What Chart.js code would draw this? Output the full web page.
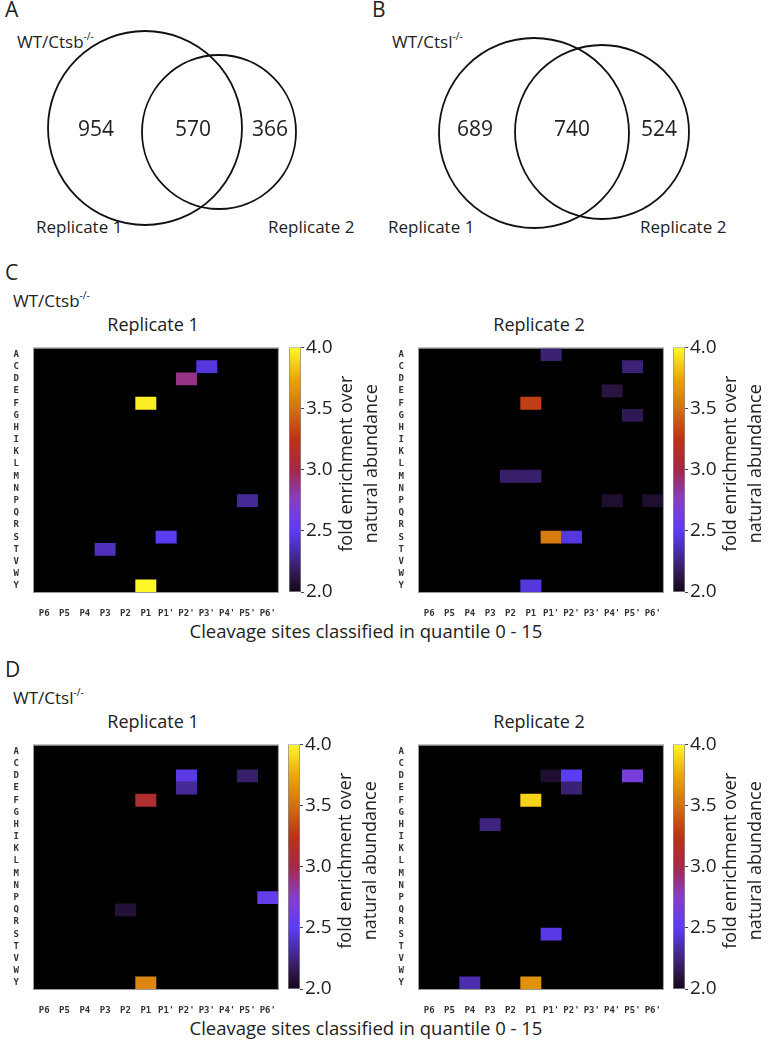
<!DOCTYPE html>
<html>
<head>
<meta charset="utf-8">
<script src="https://cdn.jsdelivr.net/npm/chart.js@4.4.0/dist/chart.umd.min.js"></script>
<style>
    body { margin: 0; width: 770px; height: 1042px; position: relative; overflow: hidden; background: #fff; font-family: 'Open Sans', sans-serif; color: #222; }
    canvas { position: absolute; }
    .t { position: absolute; white-space: nowrap; line-height: 1; }
    .t sup { font-size: 60%; position: relative; top: -0.1em; }
    .letter { font-size: 21px; }
    .strain { font-size: 17px; }
    .rep { font-size: 17px; }
    .title { font-size: 18px; width: 200px; text-align: center; }
    .caption { font-size: 18.5px; width: 500px; text-align: center; }
</style>
</head>
<body>
<!-- panel A / B : venn -->
<div class="t letter" style="left:5px; top:-1px;">A</div>
<div class="t letter" style="left:372px; top:-1px;">B</div>
<div class="t strain" style="left:17px; top:32px;">WT/Ctsb<sup>-/-</sup></div>
<div class="t strain" style="left:392px; top:32px;">WT/Ctsl<sup>-/-</sup></div>
<div class="t rep" style="left:36px; top:218px;">Replicate 1</div>
<div class="t rep" style="left:268px; top:218px;">Replicate 2</div>
<div class="t rep" style="left:388px; top:218px;">Replicate 1</div>
<div class="t rep" style="left:640px; top:218px;">Replicate 2</div>
<canvas id="vennA" width="385" height="245" style="left:0; top:0;"></canvas>
<canvas id="vennB" width="385" height="245" style="left:385px; top:0;"></canvas>

<!-- panel C -->
<div class="t letter" style="left:5px; top:262px;">C</div>
<div class="t strain" style="left:13px; top:291px;">WT/Ctsb<sup>-/-</sup></div>
<div class="t title" style="left:53px; top:315px;">Replicate 1</div>
<div class="t title" style="left:439px; top:315px;">Replicate 2</div>
<canvas id="hmC1" width="284" height="280" style="left:0; top:336px;"></canvas>
<canvas id="hmC2" width="284" height="280" style="left:385px; top:336px;"></canvas>
<canvas id="cbC1" width="100" height="282" style="left:289px; top:334px;"></canvas>
<canvas id="cbC2" width="97" height="282" style="left:673px; top:334px;"></canvas>
<div class="t caption" style="left:116px; top:622px;">Cleavage sites classified in quantile 0 - 15</div>

<!-- panel D -->
<div class="t letter" style="left:5px; top:659px;">D</div>
<div class="t strain" style="left:13px; top:688px;">WT/Ctsl<sup>-/-</sup></div>
<div class="t title" style="left:53px; top:712px;">Replicate 1</div>
<div class="t title" style="left:439px; top:712px;">Replicate 2</div>
<canvas id="hmD1" width="284" height="280" style="left:0; top:733px;"></canvas>
<canvas id="hmD2" width="284" height="280" style="left:385px; top:733px;"></canvas>
<canvas id="cbD1" width="100" height="282" style="left:288px; top:731px;"></canvas>
<canvas id="cbD2" width="97" height="282" style="left:673px; top:731px;"></canvas>
<div class="t caption" style="left:116px; top:1019px;">Cleavage sites classified in quantile 0 - 15</div>

<script>
// venn counts: only replicate 1, shared, only replicate 2
const vennCtsb = [954, 570, 366];
const vennCtsl = [689, 740, 524];

const residues = ['A', 'C', 'D', 'E', 'F', 'G', 'H', 'I', 'K', 'L', 'M', 'N', 'P', 'Q', 'R', 'S', 'T', 'V', 'W', 'Y'];
const sites = ['P6', 'P5', 'P4', 'P3', 'P2', 'P1', "P1'", "P2'", "P3'", "P4'", "P5'", "P6'"];
const barTicks = [2.0, 2.5, 3.0, 3.5, 4.0];

// [residue, site, fold enrichment]
const ctsbRep1 = [
    ['C', "P3'", 2.45], ['D', "P2'", 2.88], ['F', 'P1', 3.97], ['P', "P5'", 2.3],
    ['S', "P1'", 2.5], ['T', 'P3', 2.38], ['Y', 'P1', 4.0],
];
const ctsbRep2 = [
    ['A', "P1'", 2.22], ['C', "P5'", 2.22], ['E', "P4'", 2.1], ['F', 'P1', 3.3],
    ['G', "P5'", 2.15], ['M', 'P2', 2.2], ['M', 'P1', 2.2], ['P', "P4'", 2.06],
    ['P', "P6'", 2.06], ['S', "P1'", 3.55], ['S', "P2'", 2.45], ['Y', 'P1', 2.45],
];
const ctslRep1 = [
    ['D', "P2'", 2.47], ['E', "P2'", 2.3], ['D', "P5'", 2.2], ['F', 'P1', 3.12],
    ['P', "P6'", 2.55], ['Q', 'P2', 2.08], ['Y', 'P1', 3.6],
];
const ctslRep2 = [
    ['D', "P1'", 2.06], ['D', "P2'", 2.5], ['D', "P5'", 2.65], ['E', "P2'", 2.22],
    ['F', 'P1', 3.88], ['H', 'P3', 2.25], ['S', "P1'", 2.47], ['Y', 'P4', 2.35],
    ['Y', 'P1', 3.65],
];

// colour map of the colour bar
const palette = [
    [2.0, [18, 6, 26]],
    [2.1, [40, 20, 62]],
    [2.25, [62, 36, 128]],
    [2.5, [92, 60, 242]],
    [2.75, [135, 62, 200]],
    [3.0, [165, 40, 72]],
    [3.25, [186, 52, 20]],
    [3.5, [210, 112, 18]],
    [3.75, [234, 168, 10]],
    [4.0, [255, 248, 40]],
];

function foldColor(v) {
    for (let i = 1; i < palette.length; i++) {
        const [v0, c0] = palette[i - 1];
        const [v1, c1] = palette[i];
        if (v <= v1) {
            const f = Math.max(0, (v - v0) / (v1 - v0));
            const c = c0.map((x, k) => Math.round(x + (c1[k] - x) * f));
            return `rgb(${c[0]}, ${c[1]}, ${c[2]})`;
        }
    }
    const c = palette[palette.length - 1][1];
    return `rgb(${c[0]}, ${c[1]}, ${c[2]})`;
}

const tickFont = { family: "'DejaVu Sans Mono', monospace", size: 9, weight: 'bold' };

// black plot area + thin frame
const blackPlot = {
    id: 'blackPlot',
    beforeDatasetsDraw(chart) {
        const a = chart.chartArea;
        const ctx = chart.ctx;
        ctx.save();
        ctx.fillStyle = '#000';
        ctx.fillRect(a.left, a.top, a.right - a.left, a.bottom - a.top);
        ctx.restore();
    },
    afterDatasetsDraw(chart) {
        const a = chart.chartArea;
        const ctx = chart.ctx;
        ctx.save();
        ctx.strokeStyle = '#9a9a9a';
        ctx.lineWidth = 1;
        ctx.strokeRect(a.left - 0.5, a.top - 0.5, a.right - a.left + 1, a.bottom - a.top + 1);
        ctx.restore();
    },
};

function heatmap(id, cells) {
    new Chart(document.getElementById(id), {
        type: 'bar',
        data: {
            labels: residues,
            datasets: [{
                data: cells.map((c) => ({ y: c[0], x: [sites.indexOf(c[1]), sites.indexOf(c[1]) + 1] })),
                backgroundColor: cells.map((c) => foldColor(c[2])),
                borderWidth: 0,
                barPercentage: 1,
                categoryPercentage: 1,
            }],
        },
        options: {
            indexAxis: 'y',
            responsive: false,
            animation: false,
            events: [],
            layout: { padding: { top: 8, right: 2 } },
            plugins: { legend: { display: false }, tooltip: { enabled: false } },
            scales: {
                y: {
                    type: 'category',
                    grid: { display: false },
                    border: { display: false },
                    ticks: { font: tickFont, color: '#333', padding: 7, autoSkip: false },
                    afterFit: (s) => { s.width = 34; },
                },
                x: {
                    type: 'linear',
                    min: 0,
                    max: 12,
                    grid: { display: false },
                    border: { display: false },
                    afterBuildTicks: (s) => { s.ticks = sites.map((_, i) => ({ value: i + 0.5 })); },
                    ticks: {
                        font: tickFont, color: '#333', padding: 8, autoSkip: false, maxRotation: 0,
                        callback: (v) => sites[Math.floor(v)],
                    },
                    afterFit: (s) => { s.height = 24; },
                },
            },
        },
        plugins: [blackPlot],
    });
}

// rotated two line title next to the colour bar
const barTitle = {
    id: 'barTitle',
    afterDraw(chart) {
        const a = chart.chartArea;
        const ctx = chart.ctx;
        const cy = (a.top + a.bottom) / 2 - 6;
        ctx.save();
        ctx.fillStyle = '#222';
        ctx.font = "18px 'Open Sans', sans-serif";
        ctx.textAlign = 'center';
        ctx.textBaseline = 'middle';
        [['fold enrichment over', 46], ['natural abundance', 71]].forEach(([txt, dx]) => {
            ctx.save();
            ctx.translate(a.right + dx, cy);
            ctx.rotate(-Math.PI / 2);
            ctx.fillText(txt, 0, 0);
            ctx.restore();
        });
        ctx.restore();
    },
};

function colorBar(id) {
    const el = document.getElementById(id);
    new Chart(el, {
        type: 'bar',
        data: {
            labels: [''],
            datasets: [{
                data: [[barTicks[0], barTicks[barTicks.length - 1]]],
                backgroundColor: (c) => {
                    const chart = c.chart;
                    if (!chart.chartArea) return '#000';
                    const y = chart.scales.y;
                    const g = chart.ctx.createLinearGradient(0, y.getPixelForValue(2), 0, y.getPixelForValue(4));
                    palette.forEach(([v, rgb]) => g.addColorStop((v - 2) / 2, `rgb(${rgb[0]}, ${rgb[1]}, ${rgb[2]})`));
                    return g;
                },
                borderWidth: 1,
                borderColor: '#8a8a8a',
                borderSkipped: false,
                barPercentage: 1,
                categoryPercentage: 1,
            }],
        },
        options: {
            responsive: false,
            animation: false,
            events: [],
            layout: { padding: { top: 10, bottom: 24 } },
            plugins: { legend: { display: false }, tooltip: { enabled: false } },
            scales: {
                x: { display: false },
                y: {
                    position: 'right',
                    min: 2,
                    max: 4,
                    afterBuildTicks: (s) => { s.ticks = barTicks.map((v) => ({ value: v })); },
                    grid: { drawOnChartArea: false, tickLength: 3, color: '#444' },
                    border: { display: false },
                    ticks: {
                        font: { family: "'Open Sans', sans-serif", size: 19 },
                        color: '#222',
                        padding: 2,
                        callback: (v) => v.toFixed(1),
                    },
                    afterFit: (s) => { s.width = el.width - 12; },
                },
            },
        },
        plugins: [barTitle],
    });
}

// venn circles: centre x, centre y, radius (canvas px) and count positions
const vennLayoutA = { circles: [[145, 128, 97], [219, 132, 77]], labels: [[96, 130], [193, 130], [270, 130]] };
const vennLayoutB = { circles: [[149, 133, 95], [217, 132, 87]], labels: [[90, 130], [187, 130], [274, 130]] };

const vennCounts = {
    id: 'vennCounts',
    afterDraw(chart, args, opts) {
        const ctx = chart.ctx;
        const sx = chart.scales.x;
        const sy = chart.scales.y;
        ctx.save();
        ctx.fillStyle = '#222';
        ctx.font = "21px 'Open Sans', sans-serif";
        ctx.textAlign = 'center';
        ctx.textBaseline = 'middle';
        opts.counts.forEach((n, i) => {
            const p = opts.pos[i];
            ctx.fillText(String(n), sx.getPixelForValue(p[0]), sy.getPixelForValue(p[1]));
        });
        ctx.restore();
    },
};

function venn(id, counts, layout) {
    const el = document.getElementById(id);
    new Chart(el, {
        type: 'scatter',
        data: {
            datasets: [{
                data: layout.circles.map((c) => ({ x: c[0], y: c[1] })),
                pointRadius: layout.circles.map((c) => c[2]),
                backgroundColor: 'rgba(0,0,0,0)',
                borderColor: '#111',
                borderWidth: 1.8,
                clip: false,
            }],
        },
        options: {
            responsive: false,
            animation: false,
            events: [],
            layout: { padding: 0, autoPadding: false },
            plugins: {
                legend: { display: false },
                tooltip: { enabled: false },
                vennCounts: { counts: counts, pos: layout.labels },
            },
            scales: {
                x: { display: false, min: 0, max: el.width },
                y: { display: false, min: 0, max: el.height, reverse: true },
            },
        },
        plugins: [vennCounts],
    });
}

venn('vennA', vennCtsb, vennLayoutA);
venn('vennB', vennCtsl, vennLayoutB);
heatmap('hmC1', ctsbRep1);
heatmap('hmC2', ctsbRep2);
heatmap('hmD1', ctslRep1);
heatmap('hmD2', ctslRep2);
colorBar('cbC1');
colorBar('cbC2');
colorBar('cbD1');
colorBar('cbD2');
</script>
</body>
</html>
